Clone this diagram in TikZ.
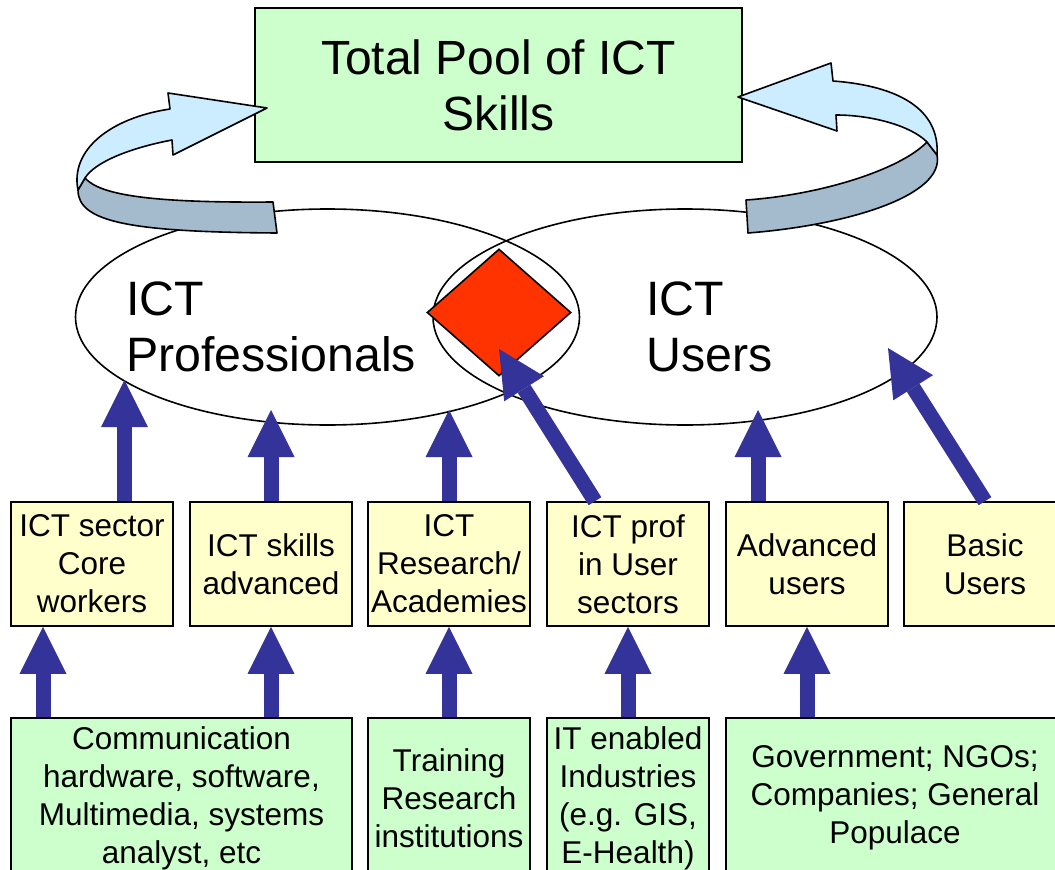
\documentclass[tikz,border=0pt]{standalone}
\usepackage{fontspec}
\setmainfont{Liberation Sans}
\usetikzlibrary{shapes.geometric,arrows.meta}
\definecolor{boxgreen}{HTML}{CCFFCC}
\definecolor{boxyellow}{HTML}{FFFFCC}
\definecolor{arrowblue}{HTML}{333399}
\definecolor{diamondred}{HTML}{FF3300}
\definecolor{ribbonlight}{HTML}{CCECFF}
\definecolor{ribbondark}{HTML}{A3BBCC}
\newcommand\titlefont{\fontsize{48}{56}\selectfont}
\newcommand\ellfont{\fontsize{48.3}{56}\selectfont}
\newcommand\boxfont{\fontsize{31.5}{38}\selectfont}
\tikzset{
  outline/.style={draw=black, line width=1.6pt},
  ybox/.style={outline, fill=boxyellow, minimum width=162pt, minimum height=124pt, inner sep=0pt, align=center, font=\boxfont},
  gbox/.style={outline, fill=boxgreen, minimum height=160pt, inner sep=0pt, align=center, font=\boxfont},
  ell/.style={outline, ellipse, minimum width=504pt, minimum height=216pt, inner sep=0pt},
  elltext/.style={anchor=west, align=left, inner sep=0pt, font=\ellfont},
  uparrow/.style={draw=arrowblue, line width=15pt, -{Triangle[width=47pt,length=47pt,line width=0pt]}},
  ribbonL/.style={outline, fill=ribbonlight, line join=round},
  ribbonD/.style={outline, fill=ribbondark, line join=round},
}
\begin{document}
\begin{tikzpicture}[x=1pt,y=-1pt]
\useasboundingbox (0,0) rectangle (1055,870);
\clip (0,0) rectangle (1055,870);
% ellipses
\node[ell] (prof) at (327.5,317) {};
\node[ell] (users) at (685,317) {};
\node[elltext] (proftext) at (126,327) {ICT\\Professionals};
\node[elltext] (usertext) at (646,327) {ICT\\Users};
% top box
\node[outline, fill=boxgreen, minimum width=487pt, minimum height=154pt, inner sep=0pt, align=center, font=\titlefont] (pool) at (498.5,85) {Total Pool of ICT\\Skills};
% left ribbon
\path[ribbonD] (78,190) .. controls (78,222) and (130,232) .. (277,233) -- (273,202)
  .. controls (150,203) and (100,195) .. (85,178) -- cycle;
\path[ribbonL] (78,190) .. controls (70,150) and (110,118) .. (170,109) -- (168,93) -- (267,108)
  -- (173,155) -- (172,140) .. controls (130,148) and (95,162) .. (85,178) -- cycle;
% right ribbon
\path[ribbonD] (937,155) .. controls (945,195) and (850,225) .. (748,233) -- (746,200)
  .. controls (820,195) and (900,170) .. (927,142) -- cycle;
\path[ribbonL] (833,81) .. controls (900,86) and (940,110) .. (937,155) -- (927,142)
  .. controls (910,125) and (870,115) .. (836,115) -- (837,131) -- (738,97) -- (831,63) -- cycle;
% diamond
\node[outline, diamond, fill=diamondred, minimum width=144pt, minimum height=127pt, inner sep=0pt] (both) at (499,312.5) {};
% yellow boxes
\node[ybox] (y1) at (92,564) {ICT sector\\Core\\workers};
\node[ybox] (y2) at (271,564) {ICT skills\\advanced};
\node[ybox] (y3) at (449,564) {ICT\\Research/\\Academies};
\node[ybox] (y4) at (628,564) {ICT prof\\in User\\sectors};
\node[ybox] (y5) at (807,564) {Advanced\\users};
\node[ybox] (y6) at (985,564) {Basic\\Users};
% green boxes
\node[gbox, minimum width=341pt] (g1) at (181.5,798) {Communication\\hardware, software,\\Multimedia, systems\\analyst, etc};
\node[gbox, minimum width=162pt] (g2) at (449,798) {Training\\Research\\institutions};
\node[gbox, minimum width=162pt] (g3) at (628,798) {IT enabled\\Industries\\(e.g. GIS,\\E-Health)};
\node[gbox, minimum width=338pt] (g4) at (895,798) {Government; NGOs;\\Companies; General\\Populace};
% arrow tips
\coordinate (t1) at (124.5,380);
\coordinate (t2) at (271,410);
\coordinate (t3) at (449,410);
\coordinate (t4) at (499,349);
\coordinate (t5) at (758,410);
\coordinate (t6) at (888,348);
% arrows to ellipses
\draw[uparrow] (y1.north -| t1) -- (t1);
\draw[uparrow] (y2.north -| t2) -- (t2);
\draw[uparrow] (y3.north -| t3) -- (t3);
\draw[uparrow] (y4.north -| 595,0) -- (t4);
\draw[uparrow] (y5.north -| t5) -- (t5);
\draw[uparrow] (y6.north -| 985,0) -- (t6);
% arrows from green boxes
\draw[uparrow] (g1.north -| 43,0) -- (y1.south -| 43,0);
\draw[uparrow] (g1.north -| 271,0) -- (y2.south -| 271,0);
\draw[uparrow] (g2.north) -- (y3.south);
\draw[uparrow] (g3.north) -- (y4.south);
\draw[uparrow] (g4.north -| 807,0) -- (y5.south -| 807,0);
\end{tikzpicture}
\end{document}
